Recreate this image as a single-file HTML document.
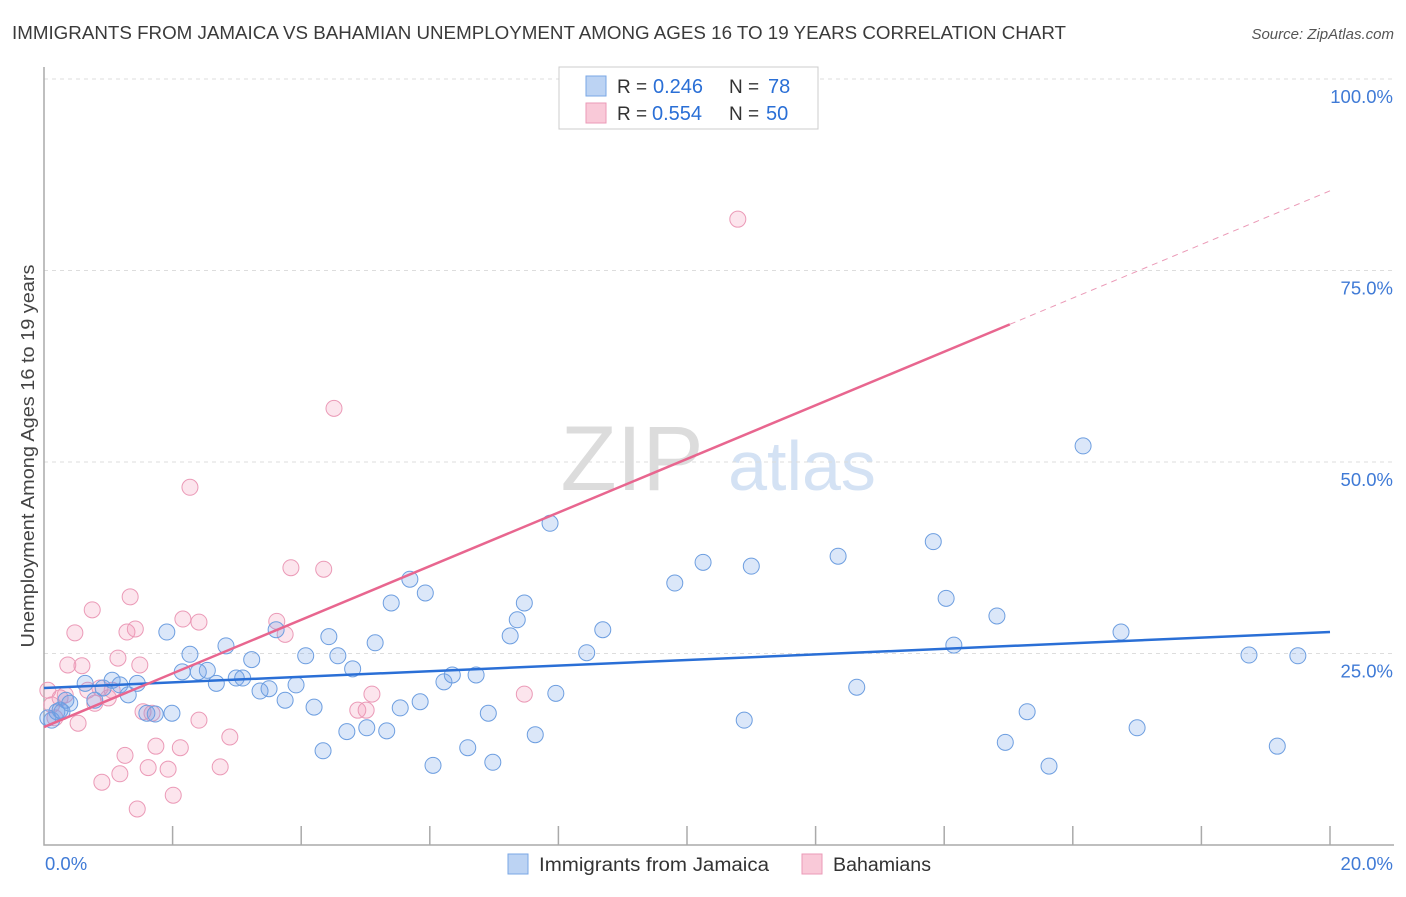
<!DOCTYPE html>
<html><head><meta charset="utf-8"><style>
body{margin:0;background:#fff;font-family:"Liberation Sans",sans-serif}
svg text{font-family:"Liberation Sans",sans-serif}
</style></head><body>
<svg id="chart" width="1406" height="892" xmlns="http://www.w3.org/2000/svg">
<text x="12" y="39" font-size="18" fill="#3a3a3a" textLength="1054" lengthAdjust="spacingAndGlyphs">IMMIGRANTS FROM JAMAICA VS BAHAMIAN UNEMPLOYMENT AMONG AGES 16 TO 19 YEARS CORRELATION CHART</text>
<text x="1394" y="39" font-size="15" fill="#555" font-style="italic" text-anchor="end">Source: ZipAtlas.com</text>
<g>
<text x="632" y="490" font-size="92" fill="#dcdcdc" font-family="Liberation Serif" text-anchor="middle">ZIP</text>
<text x="802" y="490" font-size="70" fill="#d4e2f4" text-anchor="middle">atlas</text>
</g>
<g id="grid"></g>
<g id="axes"></g>
<g id="pts"></g>
<g id="lines"></g>
<text transform="translate(34,456) rotate(-90)" font-size="18" fill="#444" text-anchor="middle" textLength="383" lengthAdjust="spacingAndGlyphs">Unemployment Among Ages 16 to 19 years</text>
<g>
<rect x="559" y="67" width="259" height="62" fill="#fff" stroke="#ccc"/>
<rect x="586" y="76" width="20" height="20" fill="#bcd3f3" stroke="#7aa7e6"/>
<rect x="586" y="103" width="20" height="20" fill="#f9c9d8" stroke="#eb9ab7"/>
<text x="617" y="93" font-size="19" fill="#333">R =</text>
<text x="653" y="93" font-size="20" fill="#2a6fd6">0.246</text>
<text x="729" y="93" font-size="19" fill="#333">N =</text>
<text x="768" y="93" font-size="20" fill="#2a6fd6">78</text>
<text x="617" y="120" font-size="19" fill="#333">R =</text>
<text x="652" y="120" font-size="20" fill="#2a6fd6">0.554</text>
<text x="729" y="120" font-size="19" fill="#333">N =</text>
<text x="766" y="120" font-size="20" fill="#2a6fd6">50</text>
</g>
<g>
<rect x="508" y="854" width="20" height="20" fill="#bcd3f3" stroke="#7aa7e6"/>
<text x="539" y="871" font-size="19" fill="#333" textLength="230" lengthAdjust="spacingAndGlyphs">Immigrants from Jamaica</text>
<rect x="802" y="854" width="20" height="20" fill="#f9c9d8" stroke="#eb9ab7"/>
<text x="833" y="871" font-size="19" fill="#333" textLength="98" lengthAdjust="spacingAndGlyphs">Bahamians</text>
</g>
</svg>
<script>
const blueX=[0.12,0.20,0.25,0.34,0.40,0.64,0.79,0.92,1.06,1.18,1.31,1.45,1.60,1.73,1.91,1.99,2.15,2.27,2.40,2.54,2.68,2.83,2.99,3.09,3.23,3.36,3.50,3.61,3.75,3.92,4.07,4.20,4.34,4.43,4.57,4.71,4.80,5.02,5.15,5.33,5.40,5.54,5.69,5.85,5.93,6.05,6.22,6.35,6.59,6.72,6.91,6.98,7.25,7.36,7.47,7.64,7.87,7.96,8.44,8.69,9.81,10.25,10.89,11.0,12.35,12.64,13.83,14.03,14.15,14.82,14.95,15.29,15.63,16.16,16.75,17.0,18.74,19.18,19.5,0.06,0.28];
const blueY=[16.3,17.4,17.6,18.9,18.5,21.1,18.9,20.5,21.5,20.9,19.6,21.1,17.2,17.1,27.8,17.2,22.6,24.9,22.6,22.8,21.1,26.0,21.8,21.8,24.2,20.1,20.4,28.1,18.9,20.9,24.7,18.0,12.3,27.2,24.7,14.8,23.0,15.3,26.4,14.9,31.6,17.9,34.7,18.7,32.9,10.4,21.3,22.2,12.7,22.2,17.2,10.8,27.3,29.4,31.6,14.4,42.0,19.8,25.1,28.1,34.2,36.9,16.3,36.4,37.7,20.6,39.6,32.2,26.1,29.9,13.4,17.4,10.3,52.1,27.8,15.3,24.8,12.9,24.7,16.6,17.4];
const pinkX=[0.06,0.12,0.17,0.25,0.33,0.37,0.48,0.53,0.59,0.68,0.75,0.79,0.87,0.90,1.0,1.06,1.15,1.18,1.26,1.29,1.34,1.42,1.45,1.49,1.54,1.62,1.68,1.74,1.93,2.01,2.12,2.16,2.27,2.41,2.41,2.74,2.89,3.62,3.75,3.84,4.35,4.51,4.88,5.01,5.10,7.47,10.79];
const pinkY=[20.2,18.3,16.6,19.2,19.6,23.5,27.7,15.9,23.4,20.2,30.7,18.5,20.5,8.2,19.2,20.2,24.4,9.3,11.7,27.8,32.4,28.2,4.7,23.5,17.4,10.1,17.2,12.9,9.9,6.5,12.7,29.5,46.7,29.1,16.3,10.2,14.1,29.2,27.5,36.2,36.0,57.0,17.6,17.6,19.7,19.7,81.7];
const yTicks=[25,50,75,100];
const xTicks=[0,2,4,6,8,10,12,14,16,18,20];
const blueTrend=[20.5,27.8];
const pinkTrend=[15.4,85.4];
const pinkSolidEnd=15.02;
const X0=44,X1=1330,Y0=845,Y100=79;
const sx=v=>X0+(v/20)*(X1-X0);
const sy=v=>Y0-(v/100)*(Y0-Y100);
const NS="http://www.w3.org/2000/svg";
function mk(tag,attrs,parent){const e=document.createElementNS(NS,tag);for(const k in attrs)e.setAttribute(k,attrs[k]);parent.appendChild(e);return e;}
const grid=document.getElementById('grid'),axes=document.getElementById('axes');
yTicks.forEach(t=>{
 const l=mk('line',{x1:X0,x2:1394,y1:sy(t),y2:sy(t),stroke:'#ddd','stroke-dasharray':'4,4'},grid);
 
 
 const tx=mk('text',{x:1393,y:sy(t)+24,'font-size':18.5,fill:'#3f7ad6','text-anchor':'end'},axes);
 tx.textContent=t.toFixed(1)+'%';
 
 
});
const ax=mk('path',{d:`M${X0},67V${Y0}H1394`,fill:'none',stroke:'#aaa','stroke-width':1.5},axes);


xTicks.forEach(t=>{if(t===0)return;
 const l=mk('line',{x1:sx(t),x2:sx(t),y1:826,y2:Y0,stroke:'#aaa','stroke-width':1.5},axes);
 
 
});
[[0,'start',45],[20,'end',1393]].forEach(([v,a,x])=>{
 const tx=mk('text',{x:x,y:870,'font-size':18.5,fill:'#3f7ad6','text-anchor':a},axes);
 tx.textContent=v.toFixed(1)+'%';
 
 
});
const pts=document.getElementById('pts');
pinkX.forEach((x,i)=>{
 const c=mk('circle',{cx:sx(x),cy:sy(pinkY[i]),r:8,fill:'rgba(242,150,182,0.25)',stroke:'#eb9ab7','stroke-width':1},pts);
 
 
});
blueX.forEach((x,i)=>{
 const c=mk('circle',{cx:sx(x),cy:sy(blueY[i]),r:8,fill:'rgba(110,160,230,0.25)',stroke:'#6d9ee0','stroke-width':1},pts);
 
 
});
const lines=document.getElementById('lines');
const bl=mk('line',{x1:sx(0),y1:sy(blueTrend[0]),x2:sx(20),y2:sy(blueTrend[1]),stroke:'#2a6fd6','stroke-width':2.5},lines);


const pv=x=>pinkTrend[0]+(pinkTrend[1]-pinkTrend[0])*x/20;
const pl=mk('line',{x1:sx(0),y1:sy(pv(0)),x2:sx(pinkSolidEnd),y2:sy(pv(pinkSolidEnd)),stroke:'#e8668f','stroke-width':2.5},lines);


const pd=mk('line',{x1:sx(pinkSolidEnd),y1:sy(pv(pinkSolidEnd)),x2:sx(20),y2:sy(pv(20)),stroke:'#eb9ab7','stroke-width':1,'stroke-dasharray':'6,5'},lines);


</script>
</body></html>
